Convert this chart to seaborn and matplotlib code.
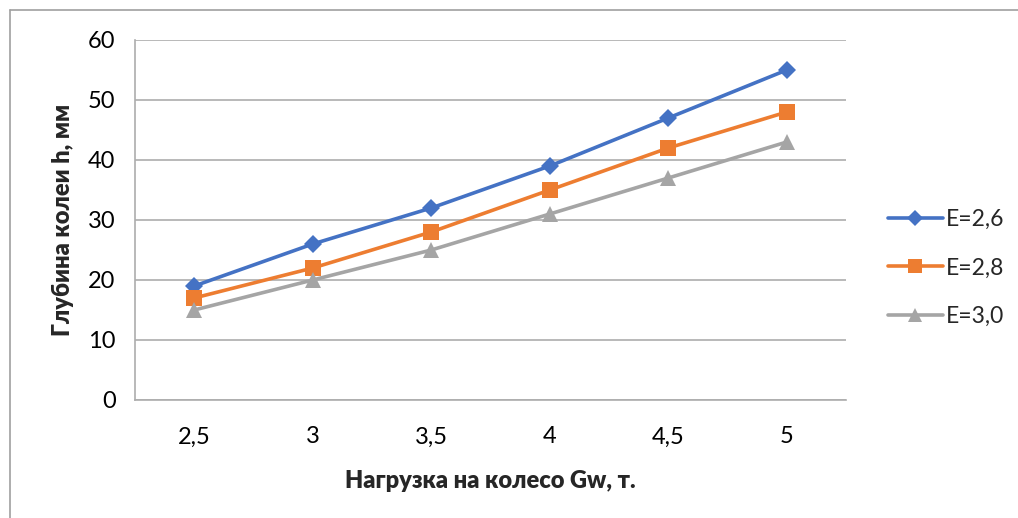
import matplotlib
matplotlib.use("Agg")
import matplotlib.pyplot as plt
from matplotlib.lines import Line2D
import seaborn as sns
import pandas as pd

categories = ["2,5", "3", "3,5", "4", "4,5", "5"]
series_names = ["E=2,6", "E=2,8", "E=3,0"]
e26 = [19, 26, 32, 39, 47, 55]
e28 = [17, 22, 28, 35, 42, 48]
e30 = [15, 20, 25, 31, 37, 43]
y_ticks = [0, 10, 20, 30, 40, 50, 60]

colors = ["#4472C4", "#ED7D31", "#A5A5A5"]
markers = ["D", "s", "^"]
msizes = [9, 11, 11]

sns.set_theme(style="white")
plt.rcParams["font.family"] = ["Lato", "DejaVu Sans"]

rows = []
for name, vals in zip(series_names, [e26, e28, e30]):
    for c, v in zip(categories, vals):
        rows.append({"cat": c, "val": v, "series": name})
df = pd.DataFrame(rows)

fig = plt.figure(figsize=(10.18, 5.18), dpi=100)
W, H = 1018, 518
ax = fig.add_axes([135 / W, 1 - 400 / H, (846 - 135) / W, (400 - 40) / H])

for i, name in enumerate(series_names):
    sub = df[df["series"] == name]
    sns.lineplot(data=sub, x="cat", y="val", ax=ax, color=colors[i], linewidth=2.6,
                 marker=markers[i], markersize=msizes[i], markeredgewidth=0,
                 sort=False, legend=False)

ax.set_xlim(-0.5, len(categories) - 0.5)
ax.set_ylim(0, 60)
ax.set_yticks(y_ticks)
ax.set_yticklabels([str(t) for t in y_ticks], fontsize=17)
ax.set_xticks(range(len(categories)))
ax.set_xticklabels(categories, fontsize=17)
ax.yaxis.grid(True, color="#ADADAD", linewidth=1.2)
ax.set_axisbelow(True)
for s in ["top", "right"]:
    ax.spines[s].set_visible(False)
ax.spines["left"].set_color("#ADADAD")
ax.spines["bottom"].set_color("#ADADAD")
ax.spines["left"].set_linewidth(1.2)
ax.spines["bottom"].set_linewidth(1.2)
ax.tick_params(axis="y", which="major", length=7, color="#ADADAD", width=1.2, pad=7, labelcolor="black")
ax.tick_params(axis="x", which="major", length=0, pad=19, labelcolor="black")

ax.set_xlabel("Нагрузка на колесо Gw, т.", fontsize=17, fontweight="heavy", labelpad=16)
ax.set_ylabel("Глубина колеи h, мм", fontsize=17, fontweight="heavy", labelpad=10)

handles = [Line2D([0], [0], color=colors[i], lw=2.6, marker=markers[i],
                  markersize=msizes[i] - 1, markeredgewidth=0) for i in range(3)]
fig.legend(handles, series_names, loc="center left", bbox_to_anchor=(867 / W, 1 - 268 / H),
           frameon=False, fontsize=16.5, handlelength=2.4, handletextpad=0.15,
           labelspacing=1.2)

# outer chart border
fig.add_artist(Line2D([9.5 / W, 1.0], [1 - 9.5 / H, 1 - 9.5 / H], transform=fig.transFigure,
                      color="#A0A0A0", lw=1.2))
fig.add_artist(Line2D([9.5 / W, 9.5 / W], [0, 1 - 9.5 / H], transform=fig.transFigure,
                      color="#A0A0A0", lw=1.2))

fig.savefig("out.png", dpi=100, facecolor="white")
